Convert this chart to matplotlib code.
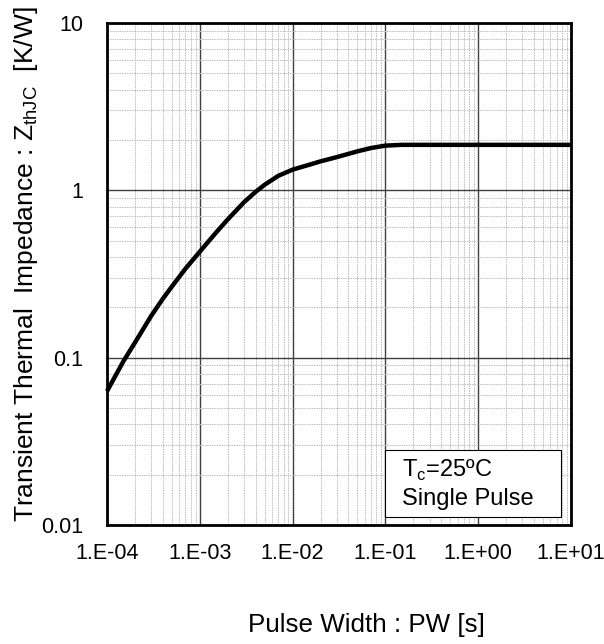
import matplotlib
matplotlib.use('Agg')
import matplotlib.pyplot as plt
from matplotlib.ticker import LogLocator, FixedLocator, NullFormatter
from matplotlib.patches import Rectangle
import numpy as np

plt.rcParams['font.family'] = ['Liberation Sans', 'DejaVu Sans']
plt.rcParams['mathtext.fontset'] = 'custom'
plt.rcParams['mathtext.rm'] = 'Liberation Sans'

# pulse width [s] and Zth [K/W]
pw = [1e-4, 1.5e-4, 2e-4, 3e-4, 4e-4, 5e-4, 7e-4, 1e-3, 1.5e-3, 2e-3, 3e-3, 4e-3,
      5e-3, 7e-3, 1e-2, 1.5e-2, 2e-2, 3e-2, 5e-2, 7e-2, 1e-1, 1.5e-1, 2e-1, 1e0, 1e1]
zth = [0.063, 0.095, 0.123, 0.178, 0.225, 0.266, 0.34, 0.43, 0.56, 0.67, 0.85, 0.98,
       1.08, 1.22, 1.33, 1.42, 1.49, 1.58, 1.71, 1.79, 1.85, 1.87, 1.87, 1.87, 1.87]

xticks = [1e-4, 1e-3, 1e-2, 1e-1, 1e0, 1e1]
xlabels = ['1.E-04', '1.E-03', '1.E-02', '1.E-01', '1.E+00', '1.E+01']
yticks = [0.01, 0.1, 1, 10]
ylabels = ['0.01', '0.1', '1', '10']

W, H = 604, 644
fig = plt.figure(figsize=(W/100, H/100), dpi=100)
ax = fig.add_axes([107/W, 1-525/H, 464/W, 502/H])

ax.set_xscale('log')
ax.set_yscale('log')
ax.set_xlim(1e-4, 1e1)
ax.set_ylim(0.01, 10)

ax.xaxis.set_major_locator(FixedLocator(xticks))
ax.set_xticklabels(xlabels)
ax.yaxis.set_major_locator(FixedLocator(yticks))
ax.set_yticklabels(ylabels)
ax.xaxis.set_minor_locator(LogLocator(base=10, subs=np.arange(2, 10), numticks=20))
ax.yaxis.set_minor_locator(LogLocator(base=10, subs=np.arange(2, 10), numticks=20))
ax.xaxis.set_minor_formatter(NullFormatter())
ax.yaxis.set_minor_formatter(NullFormatter())

ax.grid(which='major', color='#404040', linewidth=1.0, linestyle='-')
ax.grid(which='minor', color='#bcbcbc', linewidth=0.7, linestyle=(0, (1.5, 1)))
ax.set_axisbelow(True)
ax.tick_params(which='both', length=0, labelsize=15.5)
ax.tick_params(axis='x', pad=13)
ax.tick_params(axis='y', pad=17)

for s in ax.spines.values():
    s.set_linewidth(2)
    s.set_color('black')

ax.plot(pw, zth, color='black', linewidth=3.2, solid_capstyle='butt', clip_on=False, zorder=5)

# axis titles
fig.text(366/W, 1-632/H, 'Pulse Width : PW [s]', fontsize=18.7, ha='center', va='baseline')
fig.text(33/W, 1-264/H, 'Transient Thermal  Impedance : Z$_{\\mathregular{thJC}}$  [K/W]',
         fontsize=19, rotation=90, rotation_mode='anchor', ha='center', va='baseline')

# condition box
fig.patches.append(Rectangle((385/W, 1-517/H), 176/W, 67/H, transform=fig.transFigure,
                             facecolor='white', edgecolor='black', linewidth=0.8, zorder=6))
fig.text(402/W, 1-477/H, 'T$_{\\mathregular{c}}$=25ºC', fontsize=17, ha='left', va='baseline', zorder=7)
fig.text(402/W, 1-505/H, 'Single Pulse', fontsize=17, ha='left', va='baseline', zorder=7)

fig.savefig('out.png', dpi=100)
